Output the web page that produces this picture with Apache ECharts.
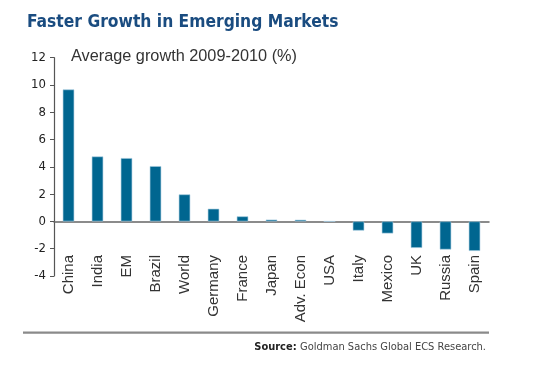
<!DOCTYPE html>
<html><head><meta charset="utf-8">
<script src="https://cdn.jsdelivr.net/npm/echarts@6/dist/echarts.min.js"></script>
<style>html,body{margin:0;padding:0;background:#fff}#c{width:537px;height:373px}</style>
</head><body><div id="c"></div>
<script>
var categories = ["China","India","EM","Brazil","World","Germany","France","Japan","Adv. Econ","USA","Italy","Mexico","UK","Russia","Spain"];
var growth = [9.67, 4.76, 4.64, 4.05, 1.98, 0.93, 0.37, 0.13, 0.12, 0.0, -0.67, -0.88, -1.94, -2.06, -2.16];
var yTicks = {min: -4, max: 12, interval: 2};

var COND = '"DejaVu Sans Condensed", "Liberation Sans", sans-serif';
var chart = echarts.init(document.getElementById('c'), null, {renderer: 'canvas'});
chart.setOption({
  animation: false,
  backgroundColor: '#fff',
  title: [
    {text: 'Faster Growth in Emerging Markets', left: 22, top: 9,
     textStyle: {fontFamily: COND, fontWeight: 'bold', fontSize: 17.3, color: '#1a4c80'}},
    {text: 'Average growth 2009-2010 (%)', left: 66, top: 44,
     textStyle: {fontFamily: '"Liberation Sans", sans-serif', fontWeight: 'normal', fontSize: 16.3, color: '#333'}}
  ],
  grid: {left: 54, right: 48, top: 57.7, bottom: 97, containLabel: false},
  xAxis: {
    type: 'category', data: categories,
    axisLine: {onZero: true, lineStyle: {color: '#666', width: 1.5}},
    axisTick: {show: false},
    axisLabel: {rotate: 90, margin: -21, fontFamily: '"Liberation Sans", sans-serif', fontSize: 15, color: '#333', interval: 0}
  },
  yAxis: {
    type: 'value', min: yTicks.min, max: yTicks.max, interval: yTicks.interval,
    axisLine: {show: true, lineStyle: {color: '#555', width: 1.2}},
    axisTick: {show: true, inside: false, length: 4, lineStyle: {color: '#555'}},
    splitLine: {show: false},
    axisLabel: {margin: 8, fontFamily: COND, fontSize: 13, color: '#222'}
  },
  series: [{
    type: 'bar', data: growth, barWidth: 11.5,
    itemStyle: {color: '#006690', borderColor: '#a8cde0', borderWidth: 0.6}
  }],
  graphic: [
    {type: 'rect', shape: {x: 23, y: 331.5, width: 466, height: 2.2}, style: {fill: '#8a8a8a'}},
    {type: 'text', right: 51, top: 341,
     style: {text: '{b|Source:} {r|Goldman Sachs Global ECS Research.}',
       rich: {b: {fontFamily: COND, fontWeight: 'bold', fontSize: 11, fill: '#222'},
              r: {fontFamily: COND, fontSize: 11, fill: '#444'}}}}
  ]
});
</script></body></html>
